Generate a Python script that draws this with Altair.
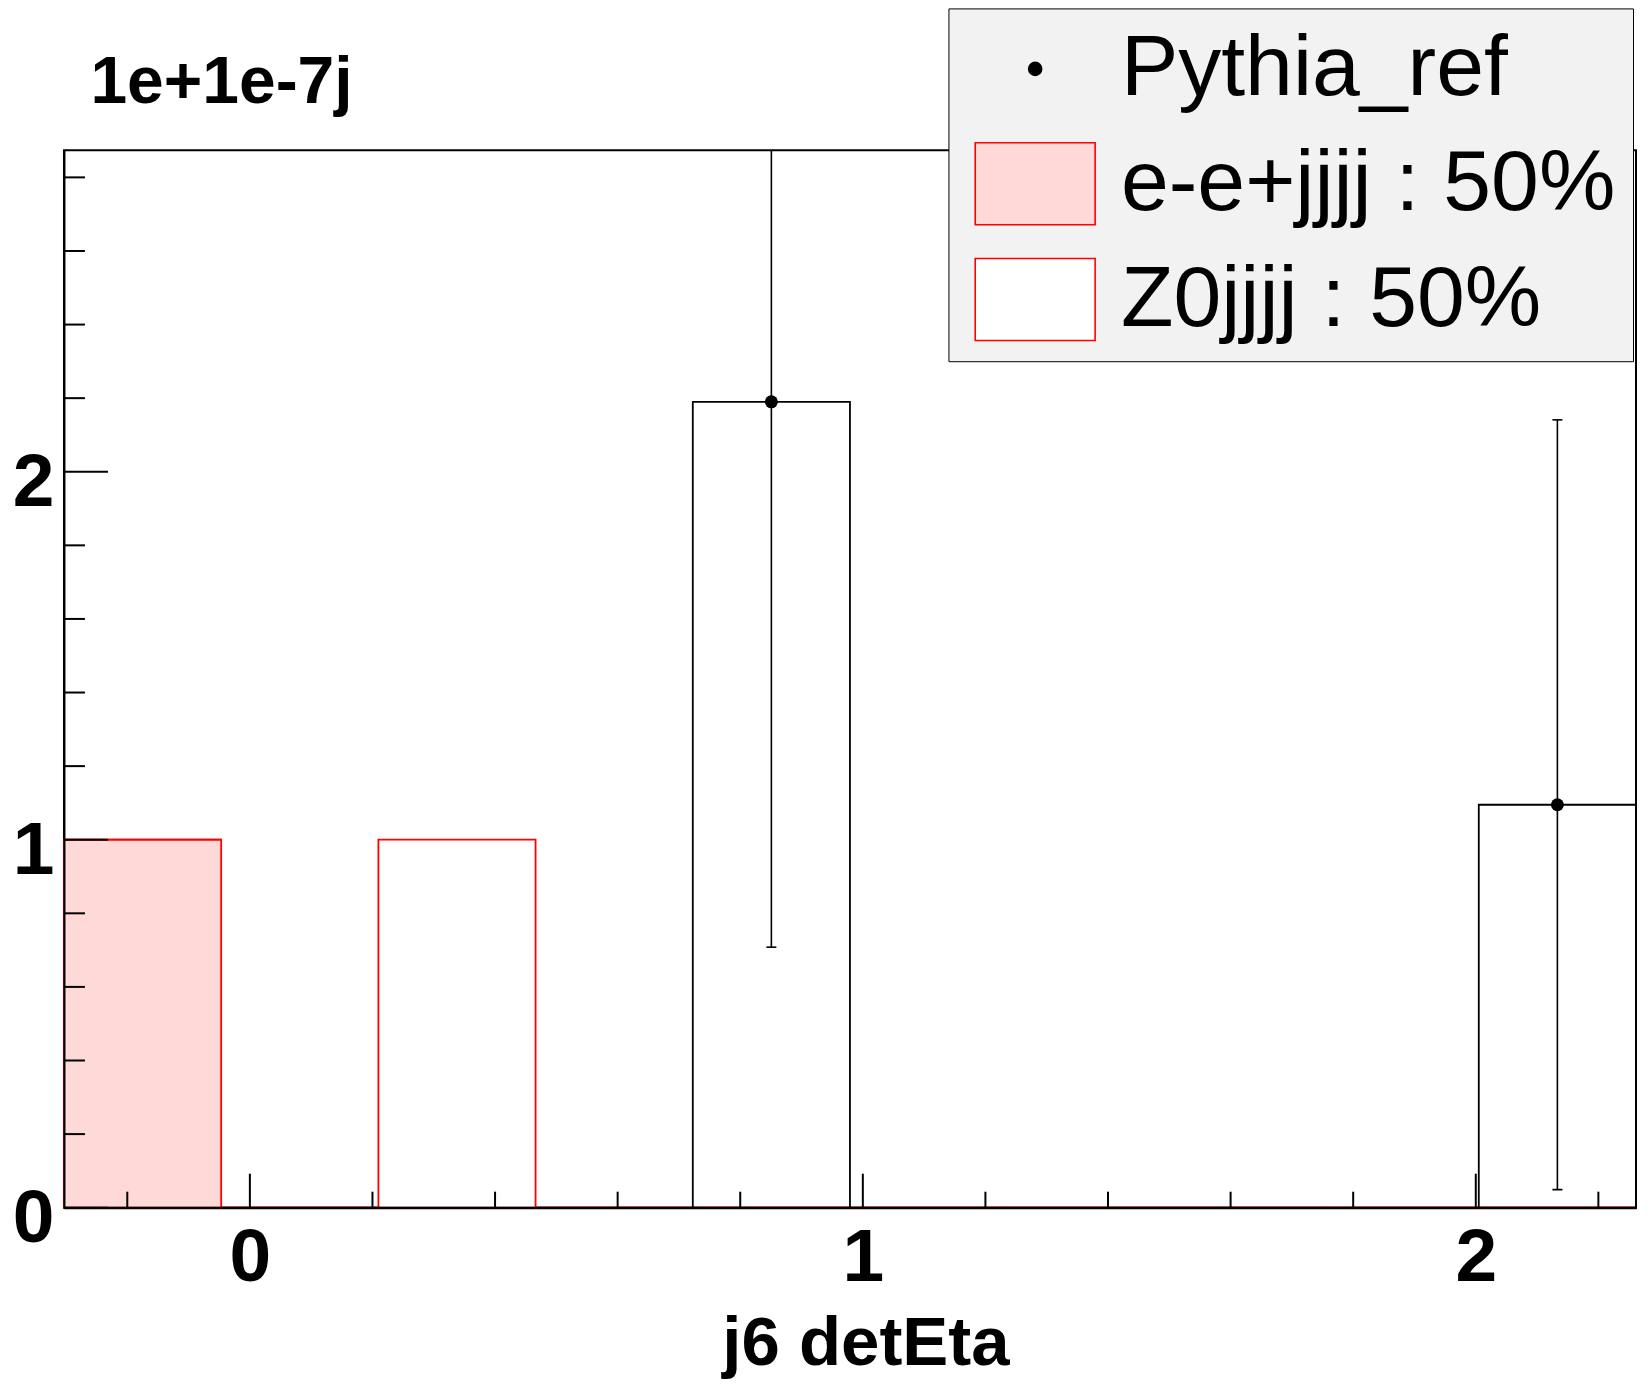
import altair as alt
import pandas as pd

# ---------------- data ----------------
bin_edges = [-0.3033, -0.0468, 0.2097, 0.4661, 0.7226, 0.9790,
             1.2355, 1.4920, 1.7485, 2.0049, 2.2614]
pythia_vals = [0, 0, 0, 0, 2.19, 0, 0, 0, 0, 1.095]
pythia_errs = [0, 0, 0, 0, 1.482, 0, 0, 0, 0, 1.046]
eejjjj_vals = [1, 0, 0, 0, 0, 0, 0, 0, 0, 0]
z0jjjj_vals = [0, 0, 1, 0, 0, 0, 0, 0, 0, 0]
series_names = ["Pythia_ref", "e-e+jjjj : 50%", "Z0jjjj : 50%"]

x_major = [0, 1, 2]
x_minor = [-0.2, 0.2, 0.4, 0.6, 0.8, 1.2, 1.4, 1.6, 1.8, 2.2]
y_major = [0, 1, 2]
y_minor = [0.2, 0.4, 0.6, 0.8, 1.2, 1.4, 1.6, 1.8, 2.2, 2.4, 2.6, 2.8]
x_title = "j6 detEta"
y_title = "1e+1e-7j"
y_max = 2.8735

# ---------------- styling ----------------
FONT = "Liberation Sans"
W, H = 1573, 1058
PINK = "#FFD8D8"

lo = bin_edges[:-1]
hi = bin_edges[1:]
bins = pd.DataFrame({
    "lo": lo, "hi": hi,
    "center": [(a + b) / 2 for a, b in zip(lo, hi)],
    "base": [0] * len(lo),
    "pythia": pythia_vals,
    "ee_top": eejjjj_vals,
    "z0_top": [a + b for a, b in zip(eejjjj_vals, z0jjjj_vals)],
    "elo": [v - e for v, e in zip(pythia_vals, pythia_errs)],
    "ehi": [v + e for v, e in zip(pythia_vals, pythia_errs)],
    "err": pythia_errs,
})
pts = bins[bins["pythia"] > 0]

xscale = alt.Scale(domain=[bin_edges[0], bin_edges[-1]], nice=False, zero=False)
yscale = alt.Scale(domain=[0, y_max], nice=False, zero=False)

xaxis = alt.Axis(values=x_major, title=x_title, grid=False, ticks=False, tickSize=0,
                 labelFont=FONT, labelFontSize=75, labelFontWeight="bold", labelColor="black",
                 labelPadding=14, labelFlush=False,
                 domainColor="black", domainWidth=2, zindex=1,
                 titleFont=FONT, titleFontSize=69, titleFontWeight="bold", titleColor="black",
                 titleX=802, titleY=157, titleAlign="center", titleBaseline="alphabetic")
yaxis = alt.Axis(values=y_major, title=y_title, grid=False, ticks=False, tickSize=0,
                 labelFont=FONT, labelFontSize=75, labelFontWeight="bold", labelColor="black",
                 labelPadding=10, labelOffset=11, labelFlush=False,
                 domainColor="black", domainWidth=2, zindex=1,
                 titleFont=FONT, titleFontSize=66, titleFontWeight="bold", titleColor="black",
                 titleAngle=0, titleX=26, titleY=-48, titleAlign="left",
                 titleBaseline="alphabetic")


def X(field):
    return alt.X(field, type="quantitative", scale=xscale, axis=xaxis)


def Y(field):
    return alt.Y(field, type="quantitative", scale=yscale, axis=yaxis)


base = alt.Chart(bins)

ee_bars = base.mark_rect(fill=PINK, stroke="red", strokeWidth=1.8).encode(
    x=X("lo"), x2="hi", y=Y("ee_top"), y2="base")
z0_bars = base.mark_rect(fill="white", stroke="red", strokeWidth=1.8).encode(
    x=X("lo"), x2="hi", y=Y("z0_top"), y2="ee_top")
py_hist = base.mark_rect(fillOpacity=0, stroke="black", strokeWidth=1.8).encode(
    x=X("lo"), x2="hi", y=Y("pythia"), y2="base")

err_rule = alt.Chart(pts).mark_rule(color="black", strokeWidth=1.6, clip=True).encode(
    x=X("center"), y=Y("elo"), y2="ehi")
cap_lo = alt.Chart(pts).mark_tick(orient="horizontal", color="black", size=10,
                                  thickness=1.6, opacity=1, clip=True).encode(
    x=X("center"), y=Y("elo"))
cap_hi = alt.Chart(pts).mark_tick(orient="horizontal", color="black", size=10,
                                  thickness=1.6, opacity=1, clip=True).encode(
    x=X("center"), y=Y("ehi"))
points = alt.Chart(pts).mark_circle(size=169, color="black", opacity=1).encode(
    x=X("center"), y=Y("pythia"))

# inward-pointing ROOT style ticks
xmaj = alt.Chart(pd.DataFrame({"v": x_major})).mark_rule(color="black", strokeWidth=2).encode(
    x=X("v"), y=alt.value(H), y2=alt.value(H - 34))
xmin = alt.Chart(pd.DataFrame({"v": x_minor})).mark_rule(color="black", strokeWidth=2).encode(
    x=X("v"), y=alt.value(H), y2=alt.value(H - 16))
ymaj = alt.Chart(pd.DataFrame({"v": y_major})).mark_rule(color="black", strokeWidth=2).encode(
    y=Y("v"), x=alt.value(0), x2=alt.value(44))
ymin = alt.Chart(pd.DataFrame({"v": y_minor})).mark_rule(color="black", strokeWidth=2).encode(
    y=Y("v"), x=alt.value(0), x2=alt.value(21))

# legend (native Vega-Lite legend, carried by an empty layer)
SYM = 7293  # symbol size: sqrt ~ 85.4 px layout box
circle_path = "M0.152,0A0.152,0.152,0,1,1,-0.152,0A0.152,0.152,0,1,1,0.152,0Z"
rect_path = "M-1.405,-0.96H1.405V0.96H-1.405Z"
legend = alt.Legend(title=None,
                    orient="none", legendX=885, legendY=-142,
                    fillColor="#F2F2F2", strokeColor="black",
                    padding=17, rowPadding=26.9, symbolOffset=26.3, labelOffset=42.3,
                    labelFont=FONT, labelFontSize=86, labelColor="black", labelLimit=2000,
                    symbolSize=SYM, symbolStrokeWidth=1.6)
leg_layer = alt.Chart(pd.DataFrame({"series": series_names})).transform_filter("false").mark_point(
    filled=True, size=SYM, opacity=1, strokeWidth=1.6).encode(
    shape=alt.Shape("series:N", scale=alt.Scale(domain=series_names,
                                                range=[circle_path, rect_path, rect_path]),
                    legend=legend),
    fill=alt.Fill("series:N", scale=alt.Scale(domain=series_names,
                                              range=["black", PINK, "white"]),
                  legend=legend),
    stroke=alt.Stroke("series:N", scale=alt.Scale(domain=series_names,
                                                  range=["black", "red", "red"]),
                      legend=legend),
)

chart = alt.layer(
    ee_bars, z0_bars, py_hist, err_rule, cap_lo, cap_hi, points,
    xmaj, xmin, ymaj, ymin, leg_layer
).properties(
    width=W, height=H,
    padding={"left": 56, "top": 142, "right": 5, "bottom": 172},
    autosize=alt.AutoSizeParams(type="none"),
    background="white",
).configure_view(stroke="black", strokeWidth=2)

chart.save("out.html", embed_options={"renderer": "svg", "actions": False})
